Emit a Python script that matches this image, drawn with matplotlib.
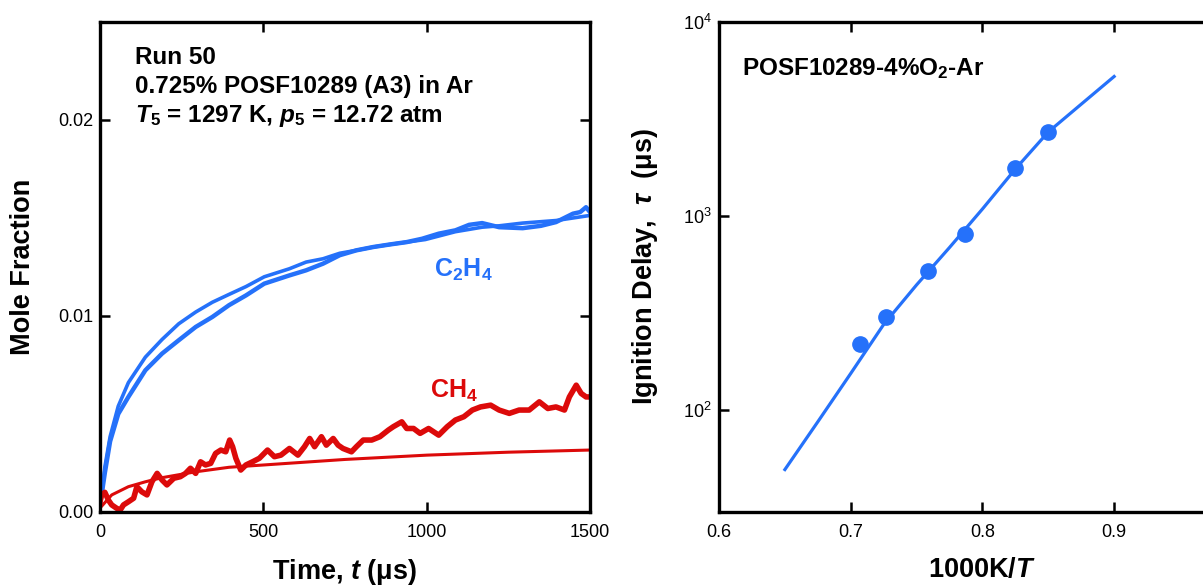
import numpy as np
import matplotlib
matplotlib.use("Agg")
import matplotlib.pyplot as plt
from matplotlib.ticker import LogLocator, LogFormatterMathtext, NullLocator, FormatStrFormatter

# ---- left panel: species time histories ----
# C2H4 measured (blue, noisy trace)
t_c2h4_exp = [0, 7, 15, 31, 56, 87, 139, 190, 241, 293, 344, 395, 447, 503, 580, 631,
              683, 734, 785, 837, 888, 939, 986, 1037, 1088, 1130, 1170, 1222, 1294,
              1350, 1396, 1448, 1470, 1488, 1500]
x_c2h4_exp = [0.0004, 0.0011, 0.0020, 0.0036, 0.0050, 0.00587, 0.00723, 0.00808, 0.00876,
              0.00944, 0.00995, 0.01055, 0.01105, 0.01165, 0.01207, 0.01233, 0.01267,
              0.0131, 0.01335, 0.01352, 0.01365, 0.01377, 0.01394, 0.0142, 0.01437,
              0.01465, 0.01474, 0.01453, 0.01448, 0.0146, 0.01479, 0.01522, 0.0153,
              0.01555, 0.0153]

# C2H4 model (blue, smooth)
t_c2h4_mod = [0, 7, 15, 31, 56, 87, 139, 190, 241, 293, 344, 395, 447, 503, 580, 631,
              683, 734, 785, 837, 888, 939, 996, 1088, 1170, 1222, 1294, 1396, 1448, 1500]
x_c2h4_mod = [0.0003, 0.00112, 0.0023, 0.00384, 0.0054, 0.0066, 0.0079, 0.0088, 0.0096,
              0.0102, 0.0107, 0.0111, 0.0115, 0.0120, 0.01241, 0.01275, 0.01292, 0.0132,
              0.01335, 0.01352, 0.01365, 0.01377, 0.01390, 0.0143, 0.01453, 0.0146,
              0.01474, 0.01487, 0.0150, 0.01513]

# CH4 measured (red, noisy trace)
t_ch4_exp = [0, 5, 15, 26, 36, 51, 62, 72, 87, 103, 113, 128, 144, 159, 175, 190, 205,
             226, 246, 262, 277, 293, 308, 323, 339, 354, 370, 385, 397, 406, 416, 431,
             447, 467, 488, 513, 534, 554, 580, 606, 626, 642, 657, 678, 693, 714, 729,
             744, 770, 785, 806, 832, 857, 883, 898, 924, 939, 960, 980, 1006, 1037,
             1063, 1088, 1114, 1140, 1165, 1196, 1222, 1253, 1283, 1314, 1345, 1371,
             1396, 1422, 1437, 1458, 1473, 1488, 1500]
x_ch4_exp = [0.0005, 0.00087, 0.0010, 0.0006, 0.00036, 0.00019, 0.0001, 0.00036, 0.00052,
             0.0007, 0.00129, 0.00103, 0.00087, 0.00154, 0.00197, 0.00163, 0.00138,
             0.00172, 0.0018, 0.00197, 0.00223, 0.00197, 0.00256, 0.0024, 0.00248,
             0.00299, 0.00316, 0.00307, 0.00367, 0.00333, 0.00274, 0.00214, 0.0024,
             0.00256, 0.00274, 0.00316, 0.00282, 0.0029, 0.00324, 0.0029, 0.00333,
             0.00375, 0.00333, 0.00384, 0.00341, 0.00375, 0.00341, 0.00324, 0.00307,
             0.00333, 0.00367, 0.00367, 0.00384, 0.00418, 0.00435, 0.0046, 0.00426,
             0.00426, 0.00401, 0.00426, 0.00392, 0.00435, 0.00469, 0.00486, 0.0052,
             0.00536, 0.00545, 0.0052, 0.00503, 0.0052, 0.0052, 0.00562, 0.00528,
             0.00536, 0.0052, 0.00587, 0.00647, 0.00605, 0.00587, 0.00587]

# CH4 model (red, smooth)
t_ch4_mod = [0, 36, 87, 139, 190, 293, 395, 503, 750, 1001, 1250, 1500]
x_ch4_mod = [0.0002, 0.00087, 0.00129, 0.00154, 0.00175, 0.00205, 0.00228, 0.0024,
             0.00268, 0.0029, 0.00305, 0.00316]

# ---- right panel: ignition delay ----
invT_exp = [0.7067, 0.7270, 0.7586, 0.7864, 0.8244, 0.8500]
tau_exp = [220, 304, 520, 807, 1771, 2725]
invT_mod = [0.65, 0.675, 0.70, 0.725, 0.75, 0.775, 0.80, 0.825, 0.85, 0.875, 0.90]
tau_mod = [49.6, 87.4, 155, 277, 443, 690, 1089, 1750, 2715, 3773, 5240]

BLUE = "#2571FA"
RED = "#DC0A0A"


def style_axes(ax):
	for s in ax.spines.values():
		s.set_linewidth(2.4)
	ax.tick_params(direction="in", length=7, width=1.8, labelsize=13,
				   top=True, right=True)
	ax.tick_params(axis="x", pad=9)
	ax.tick_params(axis="y", pad=5)


def main():
	plt.rcParams.update({
		"font.family": "Liberation Sans",
		"mathtext.fontset": "custom",
		"mathtext.rm": "Liberation Sans",
		"mathtext.it": "Liberation Sans:italic",
		"mathtext.bf": "Liberation Sans:bold",
		"mathtext.bfit": "Liberation Sans:bold:italic",
	})

	fig = plt.figure(figsize=(12.03, 5.88), dpi=100)

	# Left panel
	ax1 = fig.add_axes([0.0831, 0.1293, 0.4073, 0.8333])
	ax1.plot(t_c2h4_mod, x_c2h4_mod, color=BLUE, lw=2.6)
	ax1.plot(t_c2h4_exp, x_c2h4_exp, color=BLUE, lw=3.2)
	ax1.plot(t_ch4_mod, x_ch4_mod, color=RED, lw=2.2)
	ax1.plot(t_ch4_exp, x_ch4_exp, color=RED, lw=4.0)
	ax1.set_xlim(0, 1500)
	ax1.set_ylim(0, 0.025)
	ax1.set_xticks([0, 500, 1000, 1500])
	ax1.set_yticks([0, 0.01, 0.02])
	ax1.yaxis.set_major_formatter(FormatStrFormatter("%.2f"))
	style_axes(ax1)
	ax1.set_xlabel(r"Time, $\mathbfit{t}$ ($\mathbf{\mu}$s)", fontsize=19.5, fontweight="bold", labelpad=11)
	ax1.set_ylabel("Mole Fraction", fontsize=19.5, fontweight="bold", labelpad=16)

	ax1.text(0.071, 0.914, "Run 50", transform=ax1.transAxes, fontsize=17.5,
			 fontweight="bold", va="baseline")
	ax1.text(0.071, 0.855, "0.725% POSF10289 (A3) in Ar", transform=ax1.transAxes,
			 fontsize=17.5, fontweight="bold", va="baseline")
	ax1.text(0.071, 0.796, r"$\mathbfit{T}_\mathbf{5}$ = 1297 K, $\mathbfit{p}_\mathbf{5}$ = 12.72 atm",
			 transform=ax1.transAxes, fontsize=17.5, fontweight="bold", va="baseline")
	ax1.text(1022, 0.0120, r"$\mathbf{C_2H_4}$", color=BLUE, fontsize=18, va="baseline")
	ax1.text(1011, 0.0058, r"$\mathbf{CH_4}$", color=RED, fontsize=18, va="baseline")

	# Right panel
	ax2 = fig.add_axes([0.5977, 0.1293, 0.4379, 0.8333])
	ax2.plot(invT_mod, tau_mod, color=BLUE, lw=2.3)
	ax2.plot(invT_exp, tau_exp, "o", color=BLUE, ms=11)
	ax2.set_yscale("log")
	ax2.set_xlim(0.6, 1.0)
	ax2.set_ylim(30, 1e4)
	ax2.set_xticks([0.6, 0.7, 0.8, 0.9])
	ax2.yaxis.set_major_locator(LogLocator(base=10, numticks=10))
	ax2.yaxis.set_major_formatter(LogFormatterMathtext())
	ax2.yaxis.set_minor_locator(NullLocator())
	style_axes(ax2)
	ax2.set_xlabel(r"1000K/$\mathbfit{T}$", fontsize=19.5, fontweight="bold", labelpad=11)
	ax2.set_ylabel(r"Ignition Delay,  $\mathbfit{\tau}$  ($\mathbf{\mu}$s)", fontsize=19.5,
				   fontweight="bold", labelpad=17)
	ax2.text(0.044, 0.892, r"POSF10289-4%O$_\mathbf{2}$-Ar", transform=ax2.transAxes,
			 fontsize=17.5, fontweight="bold", va="baseline")

	fig.savefig("out.png", dpi=100)


if __name__ == '__main__':
	main()
